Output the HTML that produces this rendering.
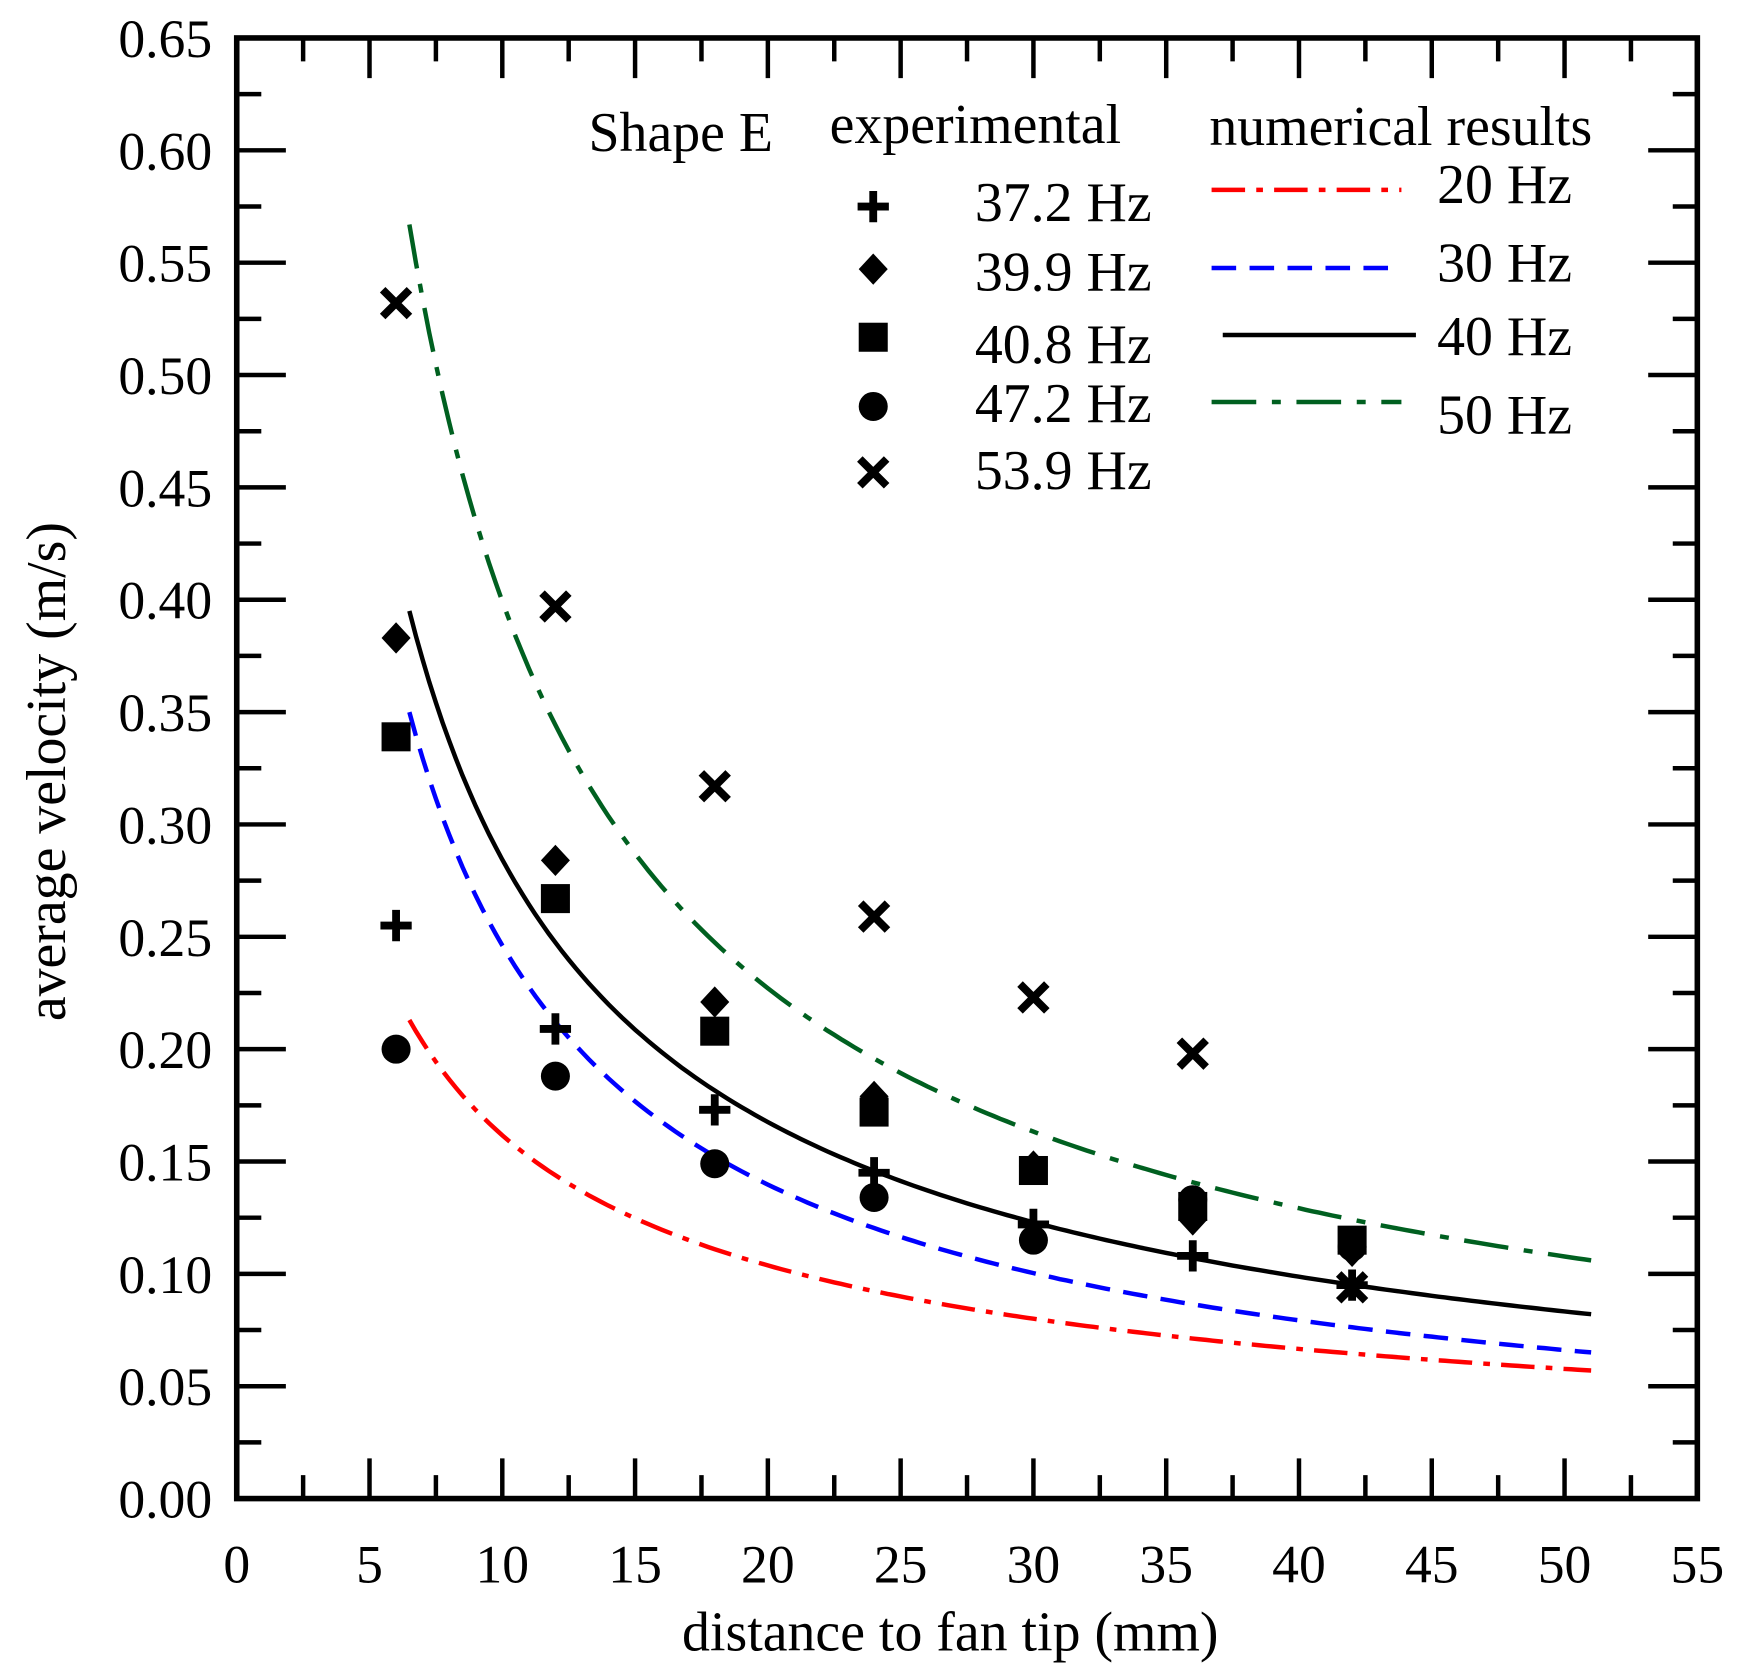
<!DOCTYPE html>
<html><head><meta charset="utf-8"><style>html,body{margin:0;padding:0;background:#fff}svg{display:block}</style></head>
<body>
<svg id="s" width="1742" height="1673" viewBox="0 0 1560 1498.2" preserveAspectRatio="none" xmlns="http://www.w3.org/2000/svg" font-family="Liberation Serif, serif">
<g id="g"></g>
<g font-size="50" fill="#000">
<text x="527" y="135">Shape E</text>
<text x="743" y="128">experimental</text>
<text x="1083" y="130">numerical results</text>
<text x="873" y="198">37.2 Hz</text>
<text x="873" y="260">39.9 Hz</text>
<text x="873" y="325">40.8 Hz</text>
<text x="873" y="378">47.2 Hz</text>
<text x="873" y="438">53.9 Hz</text>
<text x="1287" y="182">20 Hz</text>
<text x="1287" y="252">30 Hz</text>
<text x="1287" y="318">40 Hz</text>
<text x="1287" y="388">50 Hz</text>
<text x="851" y="1478" text-anchor="middle">distance to fan tip (mm)</text>
<text transform="translate(58,691) rotate(-90)" text-anchor="middle">average velocity (m/s)</text>
</g>
</svg>
<script>
var L=212,R=1520,T=34,B=1342;
function X(v){return L+(R-L)*v/55}
function Y(v){return B-(B-T)*v/0.65}
var h='';
function curve(a,n,col,dash){var p='';for(var x=6.5;x<=51.001;x+=0.25){p+=(p?'L':'M')+X(x).toFixed(1)+','+Y(a*Math.pow(6.5/x,n)).toFixed(1)}
h+='<path d="'+p+'" fill="none" stroke="'+col+'" stroke-width="4" stroke-dasharray="'+dash+'"/>';}
curve(0.213,0.64,'#f00','30 10 6 10');
curve(0.35,0.817,'#00f','22 12');
curve(0.395,0.763,'#000','none');
curve(0.567,0.814,'#006020','40 14 8 14');
h+='<line x1="1085" y1="170" x2="1255" y2="170" stroke="#f00" stroke-width="4" stroke-dasharray="30 10 6 10"/>';
h+='<line x1="1085" y1="240" x2="1250" y2="240" stroke="#00f" stroke-width="4" stroke-dasharray="22 12"/>';
h+='<line x1="1095" y1="300" x2="1268" y2="300" stroke="#000" stroke-width="4"/>';
h+='<line x1="1085" y1="360" x2="1255" y2="360" stroke="#006020" stroke-width="4" stroke-dasharray="40 14 8 14"/>';
function plus(x,y){h+='<path d="M'+(x-14)+','+y+'H'+(x+14)+'M'+x+','+(y-14)+'V'+(y+14)+'" stroke="#000" stroke-width="7"/>'}
function dia(x,y){h+='<path d="M'+x+','+(y-14)+'L'+(x+13)+','+y+'L'+x+','+(y+14)+'L'+(x-13)+','+y+'Z"/>'}
function sq(x,y){h+='<rect x="'+(x-13)+'" y="'+(y-13)+'" width="26" height="26"/>'}
function ci(x,y){h+='<circle cx="'+x+'" cy="'+y+'" r="13"/>'}
function cr(x,y){h+='<path d="M'+(x-12)+','+(y-12)+'L'+(x+12)+','+(y+12)+'M'+(x+12)+','+(y-12)+'L'+(x-12)+','+(y+12)+'" stroke="#000" stroke-width="7"/>'}
var xs=[6,12,18,24,30,36,42];
var d={p:[0.255,0.209,0.173,0.145,0.122,0.108,0.095],d:[0.383,0.284,0.221,0.179,0.148,0.124,0.110],s:[0.339,0.267,0.208,0.172,0.146,0.130,0.115],c:[0.200,0.188,0.149,0.134,0.115,0.133,0.112],x:[0.532,0.397,0.317,0.259,0.223,0.198,0.094]};
var f={p:plus,d:dia,s:sq,c:ci,x:cr};
['c','s','d','p','x'].forEach(function(k){for(var i=0;i<7;i++)f[k](X(xs[i]),Y(d[k][i]))});
plus(782,185);dia(782,241);sq(782,302);ci(782,364);cr(782,423);
var t='';
for(var i=0;i<=22;i++){var x=X(i*2.5),len=i%2?21:36;t+='M'+x+','+B+'V'+(B-len)+'M'+x+','+T+'V'+(T+len);}
for(var j=0;j<=26;j++){var y=Y(j*0.025),len=j%2?22:44;t+='M'+L+','+y+'H'+(L+len)+'M'+R+','+y+'H'+(R-len);}
h+='<path d="'+t+'" stroke="#000" stroke-width="4" fill="none"/>';
h+='<rect x="'+L+'" y="'+T+'" width="'+(R-L)+'" height="'+(B-T)+'" fill="none" stroke="#000" stroke-width="5"/>';
for(var i=0;i<=11;i++)h+='<text x="'+X(i*5)+'" y="1417" font-size="48" text-anchor="middle">'+(i*5)+'</text>';
for(var j=0;j<=13;j++)h+='<text x="190" y="'+(Y(j*0.05)+17)+'" font-size="48" text-anchor="end">'+(j*0.05).toFixed(2)+'</text>';
document.getElementById('g').innerHTML=h;
</script>
</body></html>
